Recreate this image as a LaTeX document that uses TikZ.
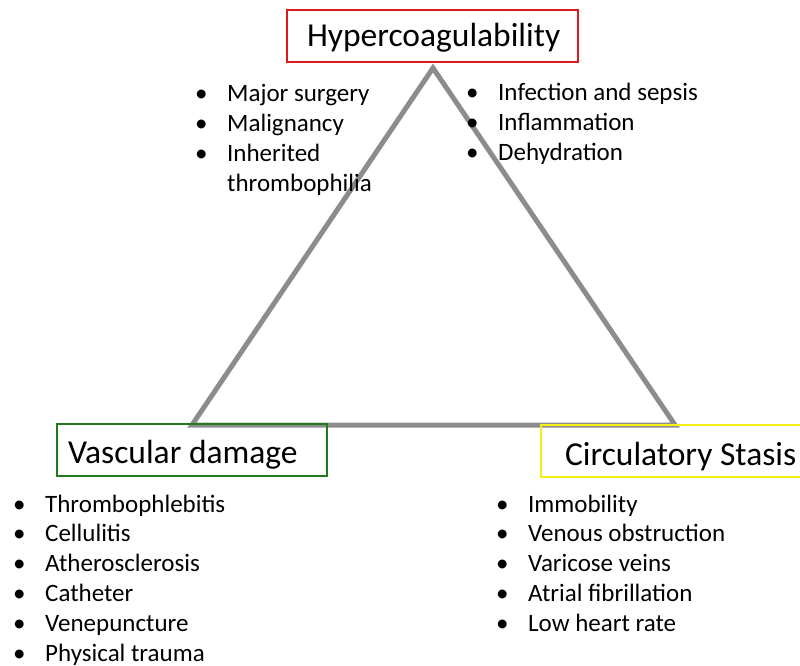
\documentclass[tikz,border=0pt]{standalone}
\usepackage{fontspec}
\setmainfont{Carlito}
\usepackage{array}

\definecolor{boxred}{RGB}{222,24,28}
\definecolor{boxgreen}{RGB}{32,122,32}
\definecolor{boxyellow}{RGB}{244,240,24}
\definecolor{trigray}{RGB}{140,140,140}

% bulleted list set as a top-aligned table, so the node's base is the first line
\newcommand{\bulletlist}[1]{%
  \begin{tabular}[t]{@{}>{\makebox[32pt][l]{\textbullet}}l@{}}#1\end{tabular}}
% title text placed at a fixed left padding inside a box of fixed width
\newcommand{\padtitle}[3]{\makebox[#1][l]{\hspace*{#2}#3}}

\tikzset{
  titlebox/.style={draw, line width=2.5pt, inner xsep=0pt, inner ysep=0pt,
    minimum height=52pt, text depth=0pt,
    font=\fontsize{33.5}{36}\selectfont},
  itemlist/.style={inner sep=0pt, anchor=base west,
    font=\fontsize{25}{29.8}\selectfont},
  triangle edge/.style={draw=trigray, line width=5pt, line join=miter}
}

\begin{document}
\begin{tikzpicture}[x=1pt, y=-1pt]
  \useasboundingbox (0,0) rectangle (800,666);

  % corners of the triangle
  \coordinate (apex)  at (433,68);
  \coordinate (left)  at (192,425);
  \coordinate (right) at (675,425);
  \draw[triangle edge] (apex) -- (right) -- (left) -- cycle;

  % the three factors
  \node[titlebox, draw=boxred, text height=22pt] (hyper) at (432.5,36)
    {\padtitle{291pt}{20pt}{Hypercoagulability}};
  \node[titlebox, draw=boxgreen, text height=26pt] (vasc) at (192,450)
    {\padtitle{270pt}{11pt}{Vascular damage}};
  \node[titlebox, draw=boxyellow, text height=28pt] (stasis) at (673,451)
    {\padtitle{264pt}{24pt}{Circulatory Stasis}};

  % contributing conditions
  \node[itemlist] (hypL) at (195,102) {\bulletlist{%
    Major surgery\\ Malignancy\\ Inherited\\ \multicolumn{1}{@{\hspace{32pt}}l@{}}{thrombophilia}}};
  \node[itemlist] (hypR) at (466,101) {\bulletlist{%
    Infection and sepsis\\ Inflammation\\ Dehydration}};
  \node[itemlist] (vascL) at (13,512) {\bulletlist{%
    Thrombophlebitis\\ Cellulitis\\ Atherosclerosis\\ Catheter\\ Venepuncture\\ Physical trauma}};
  \node[itemlist] (stasL) at (496,512) {\bulletlist{%
    Immobility\\ Venous obstruction\\ Varicose veins\\ Atrial fibrillation\\ Low heart rate}};
\end{tikzpicture}
\end{document}
